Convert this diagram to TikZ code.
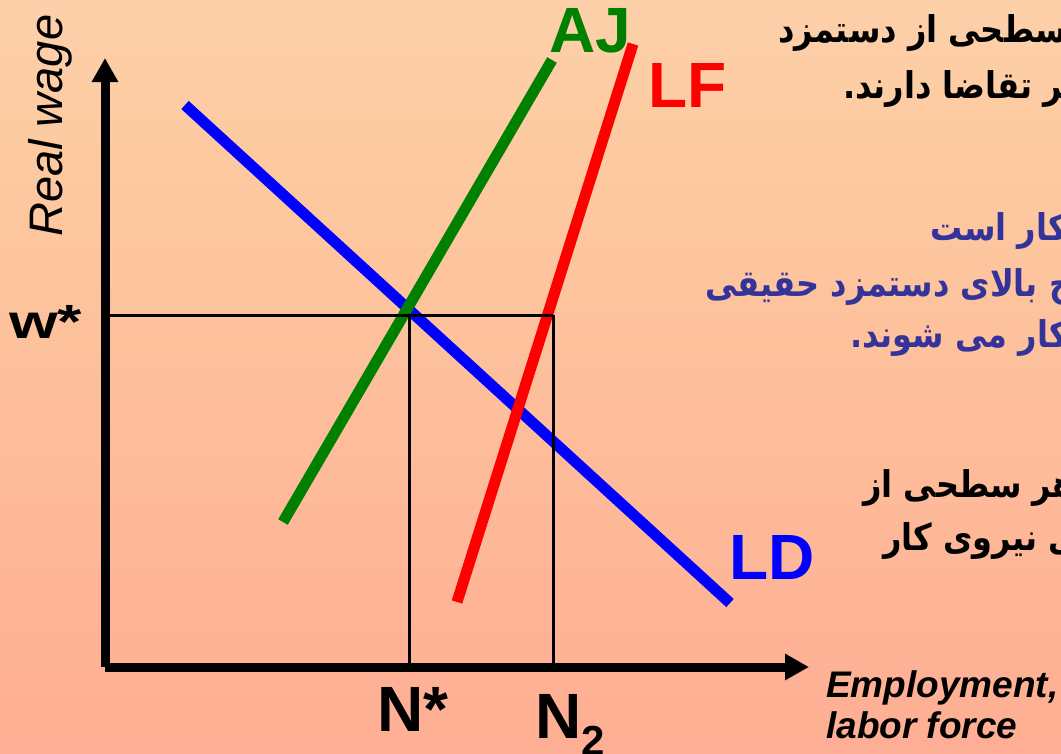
\documentclass[tikz,border=0pt]{standalone}
\usepackage{fontspec}
\setmainfont{Liberation Sans}
\newfontfamily\farsifont[Script=Arabic]{DejaVu Sans}
\TeXXeTstate=1
\usetikzlibrary{arrows.meta}
\definecolor{bgtop}{RGB}{252,224,196}
\definecolor{bgmid}{RGB}{253,202,160}
\definecolor{bgbot}{RGB}{255,156,140}
\definecolor{ajgreen}{RGB}{0,128,0}
\definecolor{lfred}{RGB}{255,0,0}
\definecolor{ldblue}{RGB}{0,0,255}
\definecolor{fablue}{RGB}{51,51,153}
\pgfdeclareverticalshading{bgshade}{100bp}{color(0bp)=(bgbot); color(65bp)=(bgmid); color(100bp)=(bgtop)}
\newcommand\zwjc{\char"200D}
\newcommand\fatxt[1]{\scalebox{1}[1.15]{\beginR #1\endR}}
\tikzset{
  farsi/.style={font=\farsifont\bfseries\fontsize{32}{32}\selectfont, inner sep=0pt, anchor=base west},
  curlab/.style={font=\bfseries\fontsize{64}{64}\selectfont, inner sep=0pt, anchor=base west},
  curveline/.style={line width=11pt},
  guide/.style={line width=3pt, black},
  axisline/.style={line width=9pt, black},
  axtext/.style={font=\bfseries\itshape\fontsize{37}{37}\selectfont, inner sep=0pt, anchor=base west}
}
\begin{document}
\begin{tikzpicture}[x=1pt,y=-1pt]
\useasboundingbox (0,0) rectangle (1061,753);
\shade[shading=bgshade] (0,0) rectangle (1061,753);
\clip (0,0) rectangle (1061,753);
% coordinates
\coordinate (O) at (105,667);
\coordinate (Ytip) at (105,58);
\coordinate (Xtip) at (809,667);
\coordinate (W) at (105,315);
\coordinate (E) at (409,315);
\coordinate (F) at (553,315);
\coordinate (Nstar) at (409,667);
\coordinate (Ntwo) at (553,667);
\coordinate (ld1) at (185,105);
\coordinate (ld2) at (730,603);
\coordinate (aj1) at (283,522);
\coordinate (aj2) at (552,60);
\coordinate (lf1) at (457,602);
\coordinate (lf2) at (633,44);
% curves
\draw[curveline, ldblue] (ld1) -- (ld2);
\draw[curveline, ajgreen] (aj1) -- (aj2);
\draw[curveline, lfred] (lf1) -- (lf2);
% guides
\draw[guide] (W) -- (F);
\draw[guide] (E) -- (Nstar);
\draw[guide] (F) -- (Ntwo);
% axes
\draw[axisline, -{Triangle[length=24pt,width=25pt]}] (O) -- (Ytip);
\draw[axisline, -{Triangle[length=24pt,width=25pt]}] (O) -- (Xtip);
% labels
\node[curlab, ajgreen] (AJ) at (549,52) {AJ};
\node[curlab, lfred] (LF) at (648,107) {LF};
\node[curlab, ldblue] (LD) at (729,579) {LD};
\node[curlab] (NS) at (377,731) {N*};
\node[curlab] (N2) at (535,738) {N\raisebox{-17pt}{\fontsize{42}{42}\selectfont 2}};
\node[anchor=base west, inner sep=0pt, font=\bfseries\fontsize{48}{48}\selectfont] (wstar) at (9,338) {\scalebox{1.3}[1]{w*}};
\node[font=\itshape\fontsize{47}{47}\selectfont, rotate=90, anchor=base west, inner sep=0pt] (RW) at (62,237) {Real wage};
\node[axtext] (EMP) at (826,697) {Employment,};
\node[axtext] (LAB) at (826,738) {labor force};
% farsi text
\node[farsi] (t11) at (778,42) {\fatxt{سطحی از دستمزد}};
\node[farsi] (t12) at (843,98) {\fatxt{\zwjc ر تقاضا دارند.}};
\node[farsi, fablue] (t21) at (930,240) {\fatxt{کار است}};
\node[farsi, fablue] (t22) at (705,296) {\fatxt{\zwjc وح بالای دستمزد حقیقی}};
\node[farsi, fablue] (t23) at (850,347) {\fatxt{\zwjc یروی کار می شوند.}};
\node[farsi] (t31) at (863,497) {\fatxt{هر سطحی از}};
\node[farsi] (t32) at (883,550) {\fatxt{\zwjc ی نیروی کار}};
\end{tikzpicture}
\end{document}
